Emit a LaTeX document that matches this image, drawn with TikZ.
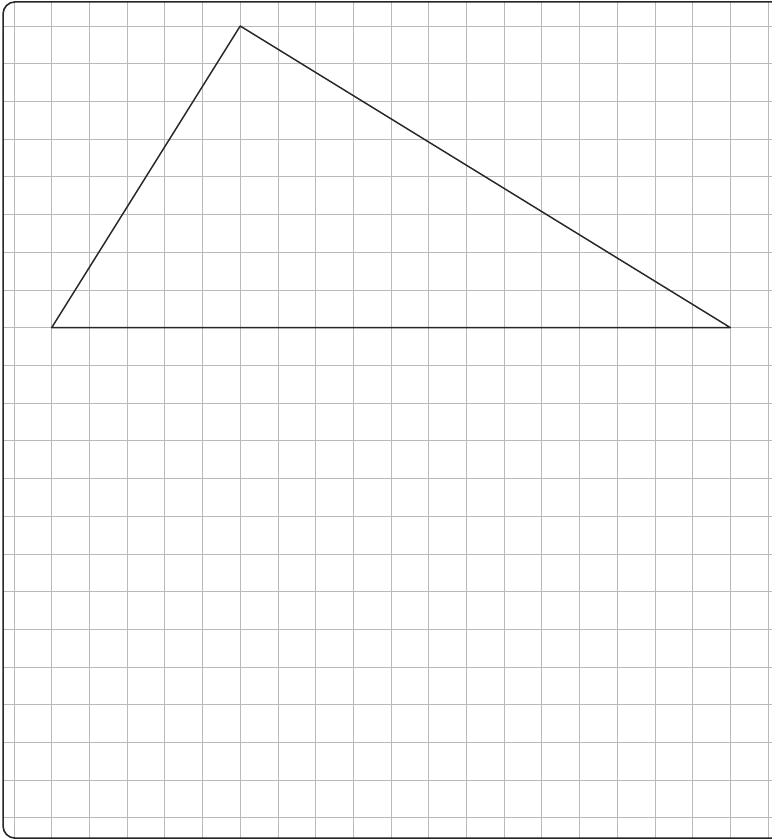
\documentclass[tikz,border=0pt]{standalone}
\usepackage{tikz}
\usetikzlibrary{positioning,calc}

\begin{document}
\begin{tikzpicture}[
    gridline/.style={gray!55, line width=0.5pt},
    edge/.style={black!85, line width=1.1pt, line join=round},
    frame/.style={draw=black!85, line width=1.2pt, rounded corners=0.32cm},
  ]
  \useasboundingbox (-0.371,0.690) rectangle (20.08,-21.59);
  % frame corners
  \coordinate (tl) at (-0.29,0.64);
  \coordinate (br) at (20.45,-21.54);
  \begin{scope}
    \clip[rounded corners=0.32cm] (tl) rectangle (br);
    \foreach \x in {0,...,20}
      \draw[gridline] (\x,1) -- (\x,-22);
    \foreach \y in {0,-1,...,-21}
      \draw[gridline] (-1,\y) -- (21,\y);
  \end{scope}
  \draw[frame] (tl) rectangle (br);

  % triangle
  \coordinate (A) at (1,-8);
  \coordinate (B) at (6,0);
  \coordinate (C) at (19,-8);
  \draw[edge] (A) -- (B) -- (C) -- cycle;
\end{tikzpicture}
\end{document}
